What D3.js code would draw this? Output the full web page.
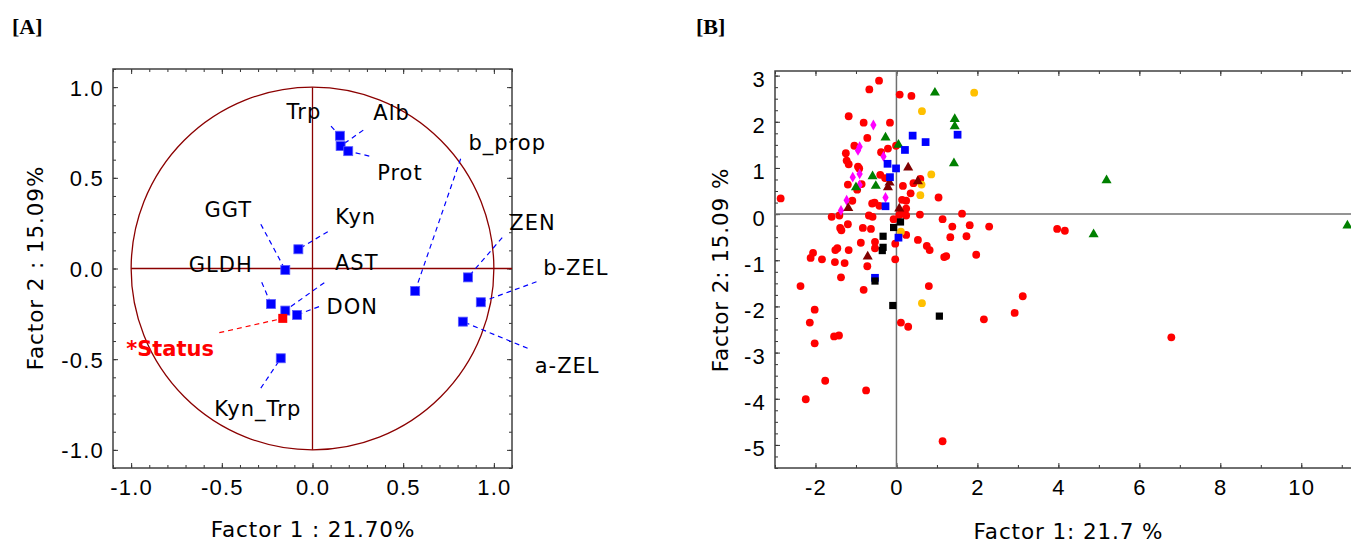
<!DOCTYPE html>
<html lang="en">
<head>
  <meta charset="UTF-8">
  <title>PCA loadings and scores</title>
  <style>
    body { margin: 0; background: #fff; }
    svg  { display: block; font-family: "DejaVu Sans", Verdana, sans-serif; }
    .tick text { font-size: 22px; letter-spacing: 1.2px; fill: #000; }
    .tick line { stroke: #333; }
    .frame { fill: none; stroke: #404040; stroke-width: 1.5px; }
    .title { font-size: 21.5px; letter-spacing: 0.9px; fill: #000; text-anchor: middle; }
    .panel { font-family: "Liberation Serif", "Times New Roman", serif; font-weight: bold; font-size: 22px; }
    .lab   { font-size: 21px; letter-spacing: 1px; text-anchor: middle; dominant-baseline: central; }
    .lead  { fill: none; stroke: #0000ff; stroke-width: 1.2px; stroke-dasharray: 5,4; }
  </style>
</head>
<body>
<svg id="chart" width="1351" height="543"></svg>
<script src="https://d3js.org/d3.v7.min.js"></script>
<script>
/* ---------- [A] variable loadings ---------- */
const varNames = ["Trp", "Alb", "Prot", "Kyn", "GGT", "GLDH", "AST", "DON", "Kyn_Trp", "b_prop", "ZEN", "b-ZEL", "a-ZEL"];
const load1    = [0.151, 0.155, 0.197, -0.078, -0.150, -0.229, -0.150, -0.085, -0.175, 0.566, 0.857, 0.928, 0.829];
const load2    = [0.732, 0.675, 0.647, 0.106, -0.008, -0.196, -0.232, -0.256, -0.495, -0.124, -0.049, -0.186, -0.293];
// label placement (factor units) and start of the leader line
const labX  = [-0.047, 0.436, 0.482, 0.238, -0.464, -0.506, 0.244, 0.219, -0.302, 1.074, 1.213, 1.452, 1.404];
const labY  = [0.864, 0.855, 0.528, 0.282, 0.322, 0.019, 0.029, -0.210, -0.776, 0.690, 0.251, 0.001, -0.535];
const leadX = [0.102, 0.280, 0.313, 0.084, -0.285, -0.280, 0.065, 0.036, -0.285, 0.817, 1.046, 1.235, 1.186];
const leadY = [0.785, 0.763, 0.620, 0.203, 0.244, -0.076, -0.078, -0.210, -0.660, 0.605, 0.170, -0.073, -0.440];
// supplementary variable
const suppName = "*Status";
const suppLoad = [-0.164, -0.275];
const suppLab  = [-0.785, -0.445];
const suppLead = [-0.514, -0.354];

/* ---------- [B] case scores [factor1, factor2] ---------- */
const redCircles = [
  [-2.86,0.34],[-0.43,2.89],[-0.67,2.70],[0.08,2.59],[0.37,2.56],[-1.18,2.12],[-0.81,1.98],[-0.16,1.98],
  [-0.72,1.65],[-1.04,1.48],[-1.25,1.32],[-0.01,1.48],[-0.21,1.42],[-0.38,1.34],[-1.23,1.16],[-1.18,1.08],
  [-0.95,1.03],[-0.92,0.99],[-0.40,0.85],[-0.28,0.78],[-1.20,0.64],[-0.86,0.65],[-0.97,0.53],[0.59,0.76],
  [0.42,0.67],[0.16,0.61],[0.35,0.45],[1.04,0.36],[0.14,0.31],[0.24,0.29],[-0.60,0.23],[-0.54,0.25],
  [-0.42,0.18],[-1.09,0.29],[0.24,0.12],[0.11,0.01],[0.24,-0.03],[0.58,-0.01],[1.62,0.01],[-0.68,-0.03],
  [-0.59,-0.06],[-1.60,-0.06],[-1.41,-0.03],[-0.07,-0.11],[1.14,-0.11],[1.38,-0.27],[1.81,-0.24],[2.29,-0.27],
  [3.97,-0.32],[4.16,-0.36],[-1.39,-0.30],[-1.36,-0.35],[-1.20,-0.22],[-0.83,-0.30],[-0.63,-0.32],[0.24,-0.45],
  [0.53,-0.56],[1.33,-0.50],[1.73,-0.48],[-0.88,-0.62],[-0.53,-0.60],[-0.03,-0.64],[-0.53,-0.74],[0.75,-0.69],
  [0.82,-0.78],[-1.46,-0.74],[-1.51,-0.78],[-1.18,-0.78],[-2.06,-0.84],[-2.12,-0.95],[-1.84,-0.98],[-1.52,-1.04],
  [-1.28,-1.06],[1.18,-0.93],[1.23,-0.91],[1.97,-0.88],[-0.03,-0.98],[-0.72,-1.13],[-1.37,-1.37],[-2.37,-1.56],
  [-0.81,-1.64],[0.80,-1.56],[3.12,-1.78],[-2.02,-2.07],[-2.14,-2.35],[-2.02,-2.80],[-1.54,-2.65],[-1.42,-2.63],
  [0.11,-2.35],[0.29,-2.44],[2.16,-2.28],[2.92,-2.14],[-1.76,-3.61],[-0.75,-3.82],[-2.24,-4.01],[1.14,-4.92],
  [6.79,-2.67],[0.07,-0.02]
];
const orangeCircles = [[1.92,2.63],[0.63,2.23],[0.86,0.86],[0.62,0.64],[0.59,0.41],[0.11,-0.38],[0.63,-1.93]];
const greenTriangles = [[0.95,2.63],[1.44,2.06],[1.44,1.90],[1.42,1.10],[-0.27,1.66],[0.05,1.50],[-0.59,0.82],
  [-0.51,0.61],[-1.00,0.58],[5.19,0.73],[4.87,-0.44],[11.14,-0.25]];
const darkRedTriangles = [[0.29,1.01],[-0.21,0.58],[-0.17,0.68],[0.53,0.71],[-1.19,0.13],[0.07,0.12],[-0.71,-0.92]];
const blueSquares = [[0.40,1.70],[0.72,1.56],[1.51,1.72],[0.21,1.39],[-0.22,1.09],[-0.01,0.99],[-0.16,0.80],
  [-0.27,0.17],[0.05,-0.51],[-0.53,-1.38]];
const blackSquares = [[0.10,-0.17],[-0.07,-0.29],[-0.33,-0.48],[-0.33,-0.72],[-0.35,-0.79],[-0.53,-1.45],
  [-0.09,-1.98],[1.06,-2.21]];
const magentaDiamonds = [[-0.57,1.93],[-0.91,1.46],[-0.95,1.38],[-0.32,1.25],[-0.91,0.87],[-1.08,0.80],
  [-0.91,0.63],[-0.27,0.36],[-1.23,0.30],[-1.37,0.08]];

const svg = d3.select("#chart");

// plain hyphen instead of the unicode minus d3 uses
const hy = f => v => f(v).replace("\u2212", "-");

// framed plot with inward ticks on all four sides
function frame(g, x, y, xMaj, xMin, yMaj, yMin, xFmt, yFmt) {
  const [x0, x1] = x.range(), [y1, y0] = y.range();
  const axes = [
    [d3.axisBottom(x), `translate(0,${y1})`, xMaj, xMin, xFmt, "b"],
    [d3.axisTop(x),    `translate(0,${y0})`, xMaj, xMin, null, "t"],
    [d3.axisLeft(y),   `translate(${x0},0)`, yMaj, yMin, yFmt, "l"],
    [d3.axisRight(y),  `translate(${x1},0)`, yMaj, yMin, null, "r"]
  ];
  axes.forEach(([ax, tr, maj, min, fmt, side]) => {
    const a = g.append("g").attr("transform", tr)
      .call(ax.tickValues(min).tickSize(-3).tickFormat(""));
    a.select(".domain").remove();
    const b = g.append("g").attr("class", "ax-" + side).attr("transform", tr)
      .call(ax.tickValues(maj).tickSize(-5).tickPadding(9).tickFormat(fmt || (() => "")));
    b.select(".domain").remove();
  });
  g.append("rect").attr("class", "frame")
    .attr("x", x0).attr("y", y0).attr("width", x1 - x0).attr("height", y1 - y0);
}

/* ---------- panel A ---------- */
const xA = d3.scaleLinear().domain([-1.1, 1.1]).range([113, 512]);
const yA = d3.scaleLinear().domain([-1.1, 1.1]).range([468, 69]);
const gA = svg.append("g");

const stepsA = d3.range(-11, 12).map(d => d / 10);
frame(gA, xA, yA, [-1, -0.5, 0, 0.5, 1], stepsA, [-1, -0.5, 0, 0.5, 1], stepsA,
      hy(d3.format(".1f")), hy(d3.format(".1f")));
gA.selectAll(".ax-b .tick text").attr("dy", "0.8em");
gA.selectAll(".ax-l .tick text").attr("dy", "0.36em");

const dr = "#8b0000";
gA.append("ellipse")
  .attr("cx", xA(0)).attr("cy", yA(0))
  .attr("rx", xA(1) - xA(0)).attr("ry", yA(0) - yA(1))
  .attr("fill", "none").attr("stroke", dr).attr("stroke-width", 1.3);
gA.append("line").attr("x1", xA(-1)).attr("x2", xA(1.1)).attr("y1", yA(0)).attr("y2", yA(0))
  .attr("stroke", dr).attr("stroke-width", 1.3);
gA.append("line").attr("x1", xA(0)).attr("x2", xA(0)).attr("y1", yA(1)).attr("y2", yA(-1))
  .attr("stroke", dr).attr("stroke-width", 1.3);

const vars = varNames.map((n, i) => ({ n, x: load1[i], y: load2[i], lx: labX[i], ly: labY[i], sx: leadX[i], sy: leadY[i] }));

gA.selectAll("line.lead").data(vars).enter().append("line")
  .attr("class", "lead")
  .attr("x1", d => xA(d.sx)).attr("y1", d => yA(d.sy))
  .attr("x2", d => xA(d.x)).attr("y2", d => yA(d.y));
gA.append("line").attr("class", "lead").style("stroke", "#ff0000")
  .attr("x1", xA(suppLead[0])).attr("y1", yA(suppLead[1]))
  .attr("x2", xA(suppLoad[0])).attr("y2", yA(suppLoad[1]));

const sq = 9;
gA.selectAll("rect.var").data(vars).enter().append("rect")
  .attr("x", d => xA(d.x) - sq / 2).attr("y", d => yA(d.y) - sq / 2)
  .attr("width", sq).attr("height", sq)
  .attr("fill", "#0000ff").attr("stroke", "#5b5bff").attr("stroke-width", 0.8);
gA.append("rect")
  .attr("x", xA(suppLoad[0]) - sq / 2).attr("y", yA(suppLoad[1]) - sq / 2)
  .attr("width", sq).attr("height", sq).attr("fill", "#ff0000");

gA.selectAll("text.lab").data(vars).enter().append("text")
  .attr("class", "lab")
  .attr("x", d => xA(d.lx)).attr("y", d => yA(d.ly))
  .text(d => d.n);
gA.append("text").attr("class", "lab")
  .attr("x", xA(suppLab[0])).attr("y", yA(suppLab[1]))
  .attr("fill", "#ff0000").attr("font-weight", "bold").style("letter-spacing", "0px")
  .text(suppName);

gA.append("text").attr("class", "title").attr("x", 313).attr("y", 537).text("Factor 1 : 21.70%");
gA.append("text").attr("class", "title")
  .attr("transform", "translate(43,268) rotate(-90)").text("Factor 2 : 15.09%");
svg.append("text").attr("class", "panel").attr("x", 12).attr("y", 34).text("[A]");

/* ---------- panel B ---------- */
const xB = d3.scaleLinear().domain([-3, 11.5]).range([775, 1362]);
const yB = d3.scaleLinear().domain([-5.5, 3.1]).range([468, 71]);
const gB = svg.append("g");

frame(gB, xB, yB, d3.range(-2, 12, 2), d3.range(-3, 12, 1), d3.range(-5, 4, 1), d3.range(-5.5, 3.1, 0.25),
      hy(d3.format("d")), hy(d3.format("d")));
gB.selectAll(".ax-b .tick text").attr("dy", "0.8em");
gB.selectAll(".ax-l .tick text").attr("dy", "0.5em");

gB.append("line").attr("x1", xB(-3)).attr("x2", xB(11.5)).attr("y1", yB(0)).attr("y2", yB(0))
  .attr("stroke", "#707070").attr("stroke-width", 1.5);
gB.append("line").attr("x1", xB(0)).attr("x2", xB(0)).attr("y1", yB(3.1)).attr("y2", yB(-5.5))
  .attr("stroke", "#707070").attr("stroke-width", 1.5);

const groups = [
  [redCircles,       d3.symbolCircle,   48, "#ff0000"],
  [orangeCircles,    d3.symbolCircle,   48, "#ffc000"],
  [magentaDiamonds,  d3.symbolDiamond,  34, "#ff00ff"],
  [greenTriangles,   d3.symbolTriangle, 44, "#008000"],
  [darkRedTriangles, d3.symbolTriangle, 44, "#800000"],
  [blueSquares,      d3.symbolSquare,   60, "#0000ff"],
  [blackSquares,     d3.symbolSquare,   52, "#000000"]
];
groups.forEach(([pts, shape, size, col]) => {
  gB.append("g").selectAll("path").data(pts).enter().append("path")
    .attr("transform", d => `translate(${xB(d[0])},${yB(d[1])})`)
    .attr("d", d3.symbol().type(shape).size(size))
    .attr("fill", col);
});

gB.append("text").attr("class", "title").attr("x", (xB(-3) + xB(11.5)) / 2).attr("y", 539).text("Factor 1: 21.7 %");
gB.append("text").attr("class", "title")
  .attr("transform", "translate(728,270) rotate(-90)").text("Factor 2: 15.09 %");
svg.append("text").attr("class", "panel").attr("x", 696).attr("y", 34).text("[B]");
</script>
</body>
</html>
